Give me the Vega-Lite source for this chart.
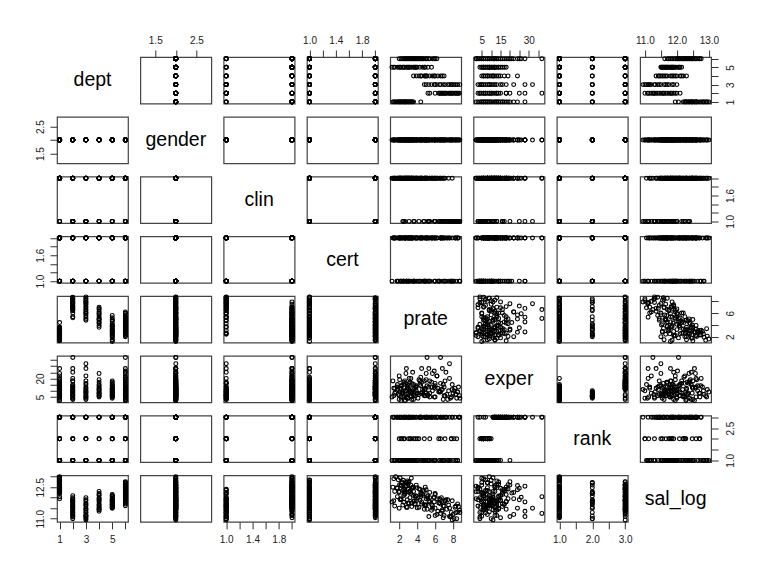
{
"$schema": "https://vega.github.io/schema/vega-lite/v6.json",
"padding": {"left": 34, "top": 34, "right": 5, "bottom": 5},
"columns": 8,
"spacing": {"row": 12.75, "column": 12.3},
"bounds": "flush",
"resolve": {"scale": {"x": "independent", "y": "independent"}},
"config": {
  "font": "Liberation Sans",
  "view": {"stroke": "#444", "strokeWidth": 1.2, "continuousWidth": 71, "continuousHeight": 46.6},
  "point": {"filled": false, "size": 15, "color": "#000", "strokeWidth": 1.1, "opacity": 1},
  "axis": {"domain": false, "grid": false, "ticks": true, "tickSize": 7, "tickColor": "#333", "tickWidth": 1, "labelFontSize": 10, "labelColor": "#222", "labelFlush": false, "labelOverlap": false, "labelBound": false},
  "axisTop": {"labelPadding": 5, "labelBaseline": "bottom"},
  "axisBottom": {"labelPadding": 6, "labelBaseline": "top"},
  "axisLeft": {"labelPadding": 5, "labelAngle": 270, "labelAlign": "center", "labelBaseline": "bottom"},
  "axisRight": {"labelPadding": 7, "labelAngle": 270, "labelAlign": "center", "labelBaseline": "top"}
},
"data": {"values": [
{"dept":1,"gender":2,"clin":2,"cert":2,"prate":1.3,"exper":18,"rank":3,"sal_log":12.5},
{"dept":1,"gender":2,"clin":2,"cert":2,"prate":1.5,"exper":12,"rank":3,"sal_log":12.3},
{"dept":1,"gender":2,"clin":2,"cert":2,"prate":1.6,"exper":9,"rank":1,"sal_log":13.0},
{"dept":1,"gender":2,"clin":2,"cert":2,"prate":1.8,"exper":15,"rank":3,"sal_log":12.45},
{"dept":1,"gender":2,"clin":2,"cert":1,"prate":1.9,"exper":7,"rank":1,"sal_log":12.85},
{"dept":1,"gender":2,"clin":2,"cert":2,"prate":2.0,"exper":22,"rank":3,"sal_log":12.25},
{"dept":1,"gender":2,"clin":2,"cert":2,"prate":2.1,"exper":11,"rank":1,"sal_log":12.95},
{"dept":1,"gender":2,"clin":2,"cert":2,"prate":2.2,"exper":5,"rank":2,"sal_log":12.6},
{"dept":1,"gender":2,"clin":2,"cert":1,"prate":2.3,"exper":14,"rank":3,"sal_log":12.75},
{"dept":1,"gender":2,"clin":2,"cert":2,"prate":2.4,"exper":8,"rank":1,"sal_log":12.35},
{"dept":1,"gender":2,"clin":1,"cert":1,"prate":2.5,"exper":17,"rank":3,"sal_log":12.4},
{"dept":1,"gender":2,"clin":2,"cert":2,"prate":2.6,"exper":6,"rank":2,"sal_log":12.2},
{"dept":1,"gender":2,"clin":2,"cert":2,"prate":2.7,"exper":10,"rank":1,"sal_log":12.65},
{"dept":1,"gender":2,"clin":2,"cert":1,"prate":2.8,"exper":28,"rank":3,"sal_log":12.55},
{"dept":1,"gender":2,"clin":2,"cert":2,"prate":2.9,"exper":13,"rank":1,"sal_log":12.8},
{"dept":1,"gender":2,"clin":2,"cert":1,"prate":3.0,"exper":4,"rank":1,"sal_log":12.4},
{"dept":1,"gender":2,"clin":1,"cert":2,"prate":3.1,"exper":16,"rank":3,"sal_log":12.25},
{"dept":1,"gender":2,"clin":2,"cert":2,"prate":3.2,"exper":9,"rank":2,"sal_log":12.28},
{"dept":1,"gender":2,"clin":2,"cert":2,"prate":3.3,"exper":20,"rank":3,"sal_log":12.6},
{"dept":1,"gender":2,"clin":2,"cert":1,"prate":3.4,"exper":3,"rank":1,"sal_log":12.45},
{"dept":1,"gender":2,"clin":2,"cert":2,"prate":3.5,"exper":12,"rank":1,"sal_log":12.5},
{"dept":1,"gender":2,"clin":2,"cert":1,"prate":3.6,"exper":7,"rank":1,"sal_log":12.3},
{"dept":1,"gender":2,"clin":2,"cert":1,"prate":2.2,"exper":2,"rank":1,"sal_log":11.95},
{"dept":1,"gender":2,"clin":2,"cert":2,"prate":4.4,"exper":14,"rank":3,"sal_log":12.05},
{"dept":1,"gender":2,"clin":2,"cert":2,"prate":1.4,"exper":6,"rank":1,"sal_log":12.9},
{"dept":1,"gender":2,"clin":2,"cert":2,"prate":2.05,"exper":19,"rank":3,"sal_log":12.62},
{"dept":1,"gender":2,"clin":2,"cert":1,"prate":2.45,"exper":10,"rank":1,"sal_log":12.83},
{"dept":1,"gender":2,"clin":2,"cert":2,"prate":2.75,"exper":24,"rank":3,"sal_log":12.58},
{"dept":1,"gender":2,"clin":2,"cert":2,"prate":3.05,"exper":8,"rank":2,"sal_log":12.72},
{"dept":1,"gender":2,"clin":2,"cert":1,"prate":1.75,"exper":13,"rank":3,"sal_log":12.48},
{"dept":1,"gender":2,"clin":2,"cert":2,"prate":3.35,"exper":5,"rank":1,"sal_log":12.93},
{"dept":1,"gender":2,"clin":1,"cert":2,"prate":2.65,"exper":16,"rank":3,"sal_log":12.38},
{"dept":2,"gender":2,"clin":1,"cert":1,"prate":8.7,"exper":6,"rank":3,"sal_log":11.4},
{"dept":2,"gender":2,"clin":1,"cert":2,"prate":8.5,"exper":9,"rank":1,"sal_log":11.7},
{"dept":2,"gender":2,"clin":1,"cert":1,"prate":8.4,"exper":4,"rank":2,"sal_log":11.0},
{"dept":2,"gender":2,"clin":1,"cert":2,"prate":8.2,"exper":12,"rank":3,"sal_log":11.55},
{"dept":2,"gender":2,"clin":1,"cert":1,"prate":8.0,"exper":8,"rank":1,"sal_log":11.2},
{"dept":2,"gender":2,"clin":2,"cert":2,"prate":7.9,"exper":15,"rank":3,"sal_log":11.85},
{"dept":2,"gender":2,"clin":1,"cert":1,"prate":7.8,"exper":5,"rank":2,"sal_log":11.3},
{"dept":2,"gender":2,"clin":1,"cert":2,"prate":7.6,"exper":20,"rank":1,"sal_log":11.1},
{"dept":2,"gender":2,"clin":2,"cert":1,"prate":7.5,"exper":10,"rank":1,"sal_log":11.65},
{"dept":2,"gender":2,"clin":1,"cert":2,"prate":7.3,"exper":7,"rank":3,"sal_log":11.45},
{"dept":2,"gender":2,"clin":1,"cert":1,"prate":7.2,"exper":25,"rank":3,"sal_log":11.9},
{"dept":2,"gender":2,"clin":2,"cert":2,"prate":7.0,"exper":13,"rank":1,"sal_log":11.15},
{"dept":2,"gender":2,"clin":1,"cert":1,"prate":6.9,"exper":3,"rank":3,"sal_log":11.6},
{"dept":2,"gender":2,"clin":2,"cert":2,"prate":6.8,"exper":28,"rank":3,"sal_log":11.35},
{"dept":2,"gender":2,"clin":1,"cert":2,"prate":6.7,"exper":11,"rank":1,"sal_log":12.0},
{"dept":2,"gender":2,"clin":2,"cert":2,"prate":6.6,"exper":37,"rank":3,"sal_log":11.25},
{"dept":2,"gender":2,"clin":1,"cert":1,"prate":6.4,"exper":9,"rank":2,"sal_log":11.75},
{"dept":2,"gender":2,"clin":2,"cert":1,"prate":6.0,"exper":14,"rank":1,"sal_log":11.5},
{"dept":2,"gender":2,"clin":2,"cert":2,"prate":5.4,"exper":18,"rank":3,"sal_log":11.8},
{"dept":2,"gender":2,"clin":2,"cert":1,"prate":5.2,"exper":6,"rank":1,"sal_log":12.1},
{"dept":2,"gender":2,"clin":1,"cert":2,"prate":8.6,"exper":13,"rank":3,"sal_log":11.58},
{"dept":2,"gender":2,"clin":1,"cert":1,"prate":7.7,"exper":4,"rank":1,"sal_log":11.08},
{"dept":2,"gender":2,"clin":2,"cert":2,"prate":7.1,"exper":18,"rank":3,"sal_log":11.82},
{"dept":2,"gender":2,"clin":1,"cert":2,"prate":8.3,"exper":7,"rank":1,"sal_log":11.28},
{"dept":2,"gender":2,"clin":2,"cert":1,"prate":6.5,"exper":10,"rank":1,"sal_log":11.95},
{"dept":3,"gender":2,"clin":1,"cert":1,"prate":8.75,"exper":4,"rank":3,"sal_log":11.3},
{"dept":3,"gender":2,"clin":1,"cert":2,"prate":8.3,"exper":7,"rank":1,"sal_log":11.6},
{"dept":3,"gender":2,"clin":1,"cert":1,"prate":7.9,"exper":11,"rank":3,"sal_log":10.94},
{"dept":3,"gender":2,"clin":1,"cert":2,"prate":7.6,"exper":32,"rank":3,"sal_log":11.5},
{"dept":3,"gender":2,"clin":1,"cert":1,"prate":7.1,"exper":6,"rank":2,"sal_log":11.85},
{"dept":3,"gender":2,"clin":2,"cert":2,"prate":6.9,"exper":15,"rank":1,"sal_log":11.05},
{"dept":3,"gender":2,"clin":1,"cert":1,"prate":6.5,"exper":9,"rank":1,"sal_log":11.75},
{"dept":3,"gender":2,"clin":2,"cert":2,"prate":6.2,"exper":22,"rank":3,"sal_log":11.2},
{"dept":3,"gender":2,"clin":1,"cert":1,"prate":5.9,"exper":5,"rank":1,"sal_log":12.0},
{"dept":3,"gender":2,"clin":2,"cert":2,"prate":5.6,"exper":13,"rank":3,"sal_log":11.4},
{"dept":3,"gender":2,"clin":1,"cert":1,"prate":5.3,"exper":28,"rank":3,"sal_log":11.1},
{"dept":3,"gender":2,"clin":2,"cert":2,"prate":5.0,"exper":8,"rank":1,"sal_log":11.65},
{"dept":3,"gender":2,"clin":2,"cert":1,"prate":4.8,"exper":18,"rank":3,"sal_log":11.45},
{"dept":3,"gender":2,"clin":1,"cert":2,"prate":7.4,"exper":3,"rank":1,"sal_log":11.9},
{"dept":3,"gender":2,"clin":1,"cert":1,"prate":8.1,"exper":10,"rank":2,"sal_log":11.0},
{"dept":3,"gender":2,"clin":2,"cert":2,"prate":6.0,"exper":12,"rank":1,"sal_log":11.15},
{"dept":3,"gender":2,"clin":1,"cert":1,"prate":7.8,"exper":5,"rank":2,"sal_log":11.12},
{"dept":3,"gender":2,"clin":2,"cert":2,"prate":6.6,"exper":16,"rank":3,"sal_log":11.7},
{"dept":3,"gender":2,"clin":1,"cert":2,"prate":8.5,"exper":9,"rank":1,"sal_log":11.32},
{"dept":4,"gender":2,"clin":1,"cert":1,"prate":7.0,"exper":6,"rank":1,"sal_log":11.6},
{"dept":4,"gender":2,"clin":1,"cert":2,"prate":6.6,"exper":9,"rank":2,"sal_log":11.9},
{"dept":4,"gender":2,"clin":2,"cert":1,"prate":6.3,"exper":12,"rank":3,"sal_log":11.35},
{"dept":4,"gender":2,"clin":1,"cert":2,"prate":6.0,"exper":5,"rank":1,"sal_log":12.2},
{"dept":4,"gender":2,"clin":2,"cert":2,"prate":5.7,"exper":24,"rank":3,"sal_log":11.5},
{"dept":4,"gender":2,"clin":2,"cert":1,"prate":5.4,"exper":8,"rank":1,"sal_log":12.0},
{"dept":4,"gender":2,"clin":2,"cert":2,"prate":5.1,"exper":14,"rank":3,"sal_log":11.45},
{"dept":4,"gender":2,"clin":2,"cert":1,"prate":4.8,"exper":11,"rank":1,"sal_log":12.3},
{"dept":4,"gender":2,"clin":2,"cert":2,"prate":4.5,"exper":17,"rank":3,"sal_log":11.7},
{"dept":4,"gender":2,"clin":1,"cert":2,"prate":4.2,"exper":7,"rank":2,"sal_log":11.55},
{"dept":4,"gender":2,"clin":2,"cert":1,"prate":3.9,"exper":10,"rank":1,"sal_log":11.85},
{"dept":4,"gender":2,"clin":2,"cert":2,"prate":3.6,"exper":15,"rank":3,"sal_log":12.1},
{"dept":4,"gender":2,"clin":2,"cert":2,"prate":5.9,"exper":13,"rank":1,"sal_log":11.8},
{"dept":4,"gender":2,"clin":2,"cert":1,"prate":4.9,"exper":6,"rank":1,"sal_log":11.65},
{"dept":4,"gender":2,"clin":1,"cert":2,"prate":6.8,"exper":11,"rank":1,"sal_log":11.42},
{"dept":4,"gender":2,"clin":2,"cert":1,"prate":5.0,"exper":19,"rank":3,"sal_log":11.95},
{"dept":4,"gender":2,"clin":2,"cert":2,"prate":4.4,"exper":8,"rank":1,"sal_log":12.15},
{"dept":5,"gender":2,"clin":2,"cert":1,"prate":1.2,"exper":5,"rank":1,"sal_log":11.8},
{"dept":5,"gender":2,"clin":2,"cert":2,"prate":1.5,"exper":8,"rank":1,"sal_log":11.6},
{"dept":5,"gender":2,"clin":2,"cert":1,"prate":1.8,"exper":11,"rank":3,"sal_log":12.05},
{"dept":5,"gender":2,"clin":2,"cert":2,"prate":2.0,"exper":6,"rank":2,"sal_log":11.5},
{"dept":5,"gender":2,"clin":2,"cert":1,"prate":2.2,"exper":14,"rank":3,"sal_log":11.9},
{"dept":5,"gender":2,"clin":1,"cert":2,"prate":2.4,"exper":9,"rank":1,"sal_log":11.65},
{"dept":5,"gender":2,"clin":2,"cert":2,"prate":2.6,"exper":18,"rank":3,"sal_log":12.15},
{"dept":5,"gender":2,"clin":2,"cert":1,"prate":2.8,"exper":7,"rank":1,"sal_log":11.55},
{"dept":5,"gender":2,"clin":2,"cert":2,"prate":3.0,"exper":12,"rank":3,"sal_log":11.75},
{"dept":5,"gender":2,"clin":2,"cert":1,"prate":3.2,"exper":10,"rank":1,"sal_log":12.0},
{"dept":5,"gender":2,"clin":2,"cert":2,"prate":3.4,"exper":16,"rank":3,"sal_log":11.58},
{"dept":5,"gender":2,"clin":1,"cert":1,"prate":3.6,"exper":6,"rank":2,"sal_log":11.82},
{"dept":5,"gender":2,"clin":2,"cert":2,"prate":3.8,"exper":13,"rank":1,"sal_log":11.7},
{"dept":5,"gender":2,"clin":2,"cert":2,"prate":4.0,"exper":8,"rank":1,"sal_log":11.52},
{"dept":5,"gender":2,"clin":2,"cert":1,"prate":4.3,"exper":15,"rank":3,"sal_log":11.88},
{"dept":5,"gender":2,"clin":2,"cert":2,"prate":4.6,"exper":9,"rank":1,"sal_log":12.1},
{"dept":5,"gender":2,"clin":2,"cert":1,"prate":4.9,"exper":11,"rank":3,"sal_log":11.62},
{"dept":5,"gender":2,"clin":1,"cert":2,"prate":5.2,"exper":7,"rank":1,"sal_log":11.95},
{"dept":5,"gender":2,"clin":2,"cert":2,"prate":5.6,"exper":17,"rank":3,"sal_log":11.68},
{"dept":5,"gender":2,"clin":2,"cert":1,"prate":2.5,"exper":5,"rank":2,"sal_log":11.78},
{"dept":5,"gender":2,"clin":2,"cert":2,"prate":3.1,"exper":10,"rank":1,"sal_log":11.72},
{"dept":5,"gender":2,"clin":2,"cert":1,"prate":3.7,"exper":12,"rank":3,"sal_log":11.85},
{"dept":5,"gender":2,"clin":2,"cert":2,"prate":1.4,"exper":12,"rank":3,"sal_log":11.85},
{"dept":5,"gender":2,"clin":2,"cert":1,"prate":2.9,"exper":4,"rank":1,"sal_log":11.54},
{"dept":5,"gender":2,"clin":2,"cert":2,"prate":3.9,"exper":14,"rank":3,"sal_log":12.08},
{"dept":5,"gender":2,"clin":1,"cert":2,"prate":4.8,"exper":6,"rank":2,"sal_log":11.66},
{"dept":5,"gender":2,"clin":2,"cert":1,"prate":2.1,"exper":9,"rank":1,"sal_log":11.92},
{"dept":6,"gender":2,"clin":2,"cert":2,"prate":2.0,"exper":3,"rank":1,"sal_log":12.3},
{"dept":6,"gender":2,"clin":2,"cert":2,"prate":2.3,"exper":8,"rank":2,"sal_log":12.7},
{"dept":6,"gender":2,"clin":2,"cert":1,"prate":2.5,"exper":15,"rank":3,"sal_log":12.1},
{"dept":6,"gender":2,"clin":2,"cert":2,"prate":2.7,"exper":2,"rank":1,"sal_log":12.55},
{"dept":6,"gender":2,"clin":2,"cert":2,"prate":2.9,"exper":11,"rank":1,"sal_log":11.9},
{"dept":6,"gender":2,"clin":2,"cert":1,"prate":3.1,"exper":20,"rank":3,"sal_log":12.76},
{"dept":6,"gender":2,"clin":2,"cert":2,"prate":3.3,"exper":6,"rank":2,"sal_log":12.2},
{"dept":6,"gender":2,"clin":2,"cert":2,"prate":3.5,"exper":25,"rank":3,"sal_log":12.45},
{"dept":6,"gender":2,"clin":1,"cert":1,"prate":3.7,"exper":9,"rank":1,"sal_log":11.7},
{"dept":6,"gender":2,"clin":2,"cert":2,"prate":3.9,"exper":13,"rank":3,"sal_log":12.6},
{"dept":6,"gender":2,"clin":2,"cert":1,"prate":4.1,"exper":4,"rank":1,"sal_log":12.0},
{"dept":6,"gender":2,"clin":2,"cert":2,"prate":4.3,"exper":18,"rank":3,"sal_log":12.4},
{"dept":6,"gender":2,"clin":2,"cert":2,"prate":4.5,"exper":28,"rank":3,"sal_log":11.8},
{"dept":6,"gender":2,"clin":1,"cert":1,"prate":4.7,"exper":7,"rank":1,"sal_log":12.35},
{"dept":6,"gender":2,"clin":2,"cert":2,"prate":4.9,"exper":12,"rank":1,"sal_log":12.5},
{"dept":6,"gender":2,"clin":2,"cert":2,"prate":5.1,"exper":37,"rank":3,"sal_log":12.05},
{"dept":6,"gender":2,"clin":1,"cert":1,"prate":5.4,"exper":5,"rank":2,"sal_log":12.25},
{"dept":6,"gender":2,"clin":2,"cert":2,"prate":5.7,"exper":10,"rank":1,"sal_log":11.62},
{"dept":6,"gender":2,"clin":1,"cert":1,"prate":6.0,"exper":16,"rank":3,"sal_log":12.15},
{"dept":6,"gender":2,"clin":2,"cert":2,"prate":6.2,"exper":22,"rank":3,"sal_log":11.95},
{"dept":6,"gender":2,"clin":2,"cert":2,"prate":2.6,"exper":2,"rank":1,"sal_log":12.28},
{"dept":6,"gender":2,"clin":2,"cert":1,"prate":3.0,"exper":14,"rank":3,"sal_log":12.65},
{"dept":6,"gender":2,"clin":2,"cert":2,"prate":3.4,"exper":9,"rank":1,"sal_log":11.75},
{"dept":6,"gender":2,"clin":2,"cert":2,"prate":3.8,"exper":6,"rank":2,"sal_log":12.08},
{"dept":6,"gender":2,"clin":2,"cert":1,"prate":4.2,"exper":19,"rank":3,"sal_log":12.42},
{"dept":6,"gender":2,"clin":2,"cert":2,"prate":4.6,"exper":11,"rank":1,"sal_log":12.18},
{"dept":6,"gender":2,"clin":2,"cert":2,"prate":5.0,"exper":24,"rank":3,"sal_log":12.38},
{"dept":6,"gender":2,"clin":2,"cert":1,"prate":3.6,"exper":3,"rank":1,"sal_log":12.5},
{"dept":6,"gender":2,"clin":2,"cert":2,"prate":2.2,"exper":12,"rank":3,"sal_log":12.58},
{"dept":6,"gender":2,"clin":2,"cert":1,"prate":2.8,"exper":5,"rank":1,"sal_log":12.72},
{"dept":6,"gender":2,"clin":2,"cert":2,"prate":3.2,"exper":17,"rank":3,"sal_log":12.32},
{"dept":6,"gender":2,"clin":2,"cert":2,"prate":4.0,"exper":8,"rank":2,"sal_log":12.48},
{"dept":6,"gender":2,"clin":2,"cert":1,"prate":4.4,"exper":21,"rank":3,"sal_log":12.22},
{"dept":6,"gender":2,"clin":1,"cert":2,"prate":5.3,"exper":13,"rank":1,"sal_log":11.85},
{"dept":6,"gender":2,"clin":2,"cert":2,"prate":5.9,"exper":26,"rank":3,"sal_log":12.02}
]},
"concat": [
{"width":71,"height":46.6,"data":{"values":[{"name":"dept"}]},"mark":{"type":"text","fontSize":19.5,"color":"#000"},"encoding":{"text":{"field":"name"}}},
{"width":71,"height":46.6,"mark":"point","encoding":{"x":{"field":"gender","type":"quantitative","scale":{"domain":[1.136,2.864]},"axis":{"orient":"top","title":null,"values":[1.5,2,2.5],"labelExpr":"datum.value==2?'':format(datum.value,'.1f')"}},"y":{"field":"dept","type":"quantitative","scale":{"domain":[0.8,6.2]},"axis":null}}},
{"width":71,"height":46.6,"mark":"point","encoding":{"x":{"field":"clin","type":"quantitative","scale":{"domain":[0.96,2.04]},"axis":null},"y":{"field":"dept","type":"quantitative","scale":{"domain":[0.8,6.2]},"axis":null}}},
{"width":71,"height":46.6,"mark":"point","encoding":{"x":{"field":"cert","type":"quantitative","scale":{"domain":[0.96,2.04]},"axis":{"orient":"top","title":null,"values":[1,1.2,1.4,1.6,1.8,2],"labelExpr":"indexof([1,1.4,1.8],datum.value)>=0?format(datum.value,'.1f'):''"}},"y":{"field":"dept","type":"quantitative","scale":{"domain":[0.8,6.2]},"axis":null}}},
{"width":71,"height":46.6,"mark":"point","encoding":{"x":{"field":"prate","type":"quantitative","scale":{"domain":[1.0,8.9]},"axis":null},"y":{"field":"dept","type":"quantitative","scale":{"domain":[0.8,6.2]},"axis":null}}},
{"width":71,"height":46.6,"mark":"point","encoding":{"x":{"field":"exper","type":"quantitative","scale":{"domain":[0.6,38.4]},"axis":{"orient":"top","title":null,"values":[5,10,15,20,25,30,35],"labelExpr":"indexof([5,15,30],datum.value)>=0?datum.label:''"}},"y":{"field":"dept","type":"quantitative","scale":{"domain":[0.8,6.2]},"axis":null}}},
{"width":71,"height":46.6,"mark":"point","encoding":{"x":{"field":"rank","type":"quantitative","scale":{"domain":[0.92,3.08]},"axis":null},"y":{"field":"dept","type":"quantitative","scale":{"domain":[0.8,6.2]},"axis":null}}},
{"width":71,"height":46.6,"mark":"point","encoding":{"x":{"field":"sal_log","type":"quantitative","scale":{"domain":[10.85,13.07]},"axis":{"orient":"top","title":null,"values":[11,11.5,12,12.5,13],"labelExpr":"datum.value%1==0?format(datum.value,'.1f'):''"}},"y":{"field":"dept","type":"quantitative","scale":{"domain":[0.8,6.2]},"axis":{"orient":"right","title":null,"values":[1,2,3,4,5,6],"labelExpr":"datum.value%2==1?datum.label:''"}}}},

{"width":71,"height":46.6,"mark":"point","encoding":{"x":{"field":"dept","type":"quantitative","scale":{"domain":[0.8,6.2]},"axis":null},"y":{"field":"gender","type":"quantitative","scale":{"domain":[1.136,2.864]},"axis":{"orient":"left","title":null,"values":[1.5,2,2.5],"labelExpr":"datum.value==2?'':format(datum.value,'.1f')"}}}},
{"width":71,"height":46.6,"data":{"values":[{"name":"gender"}]},"mark":{"type":"text","fontSize":19.5,"color":"#000"},"encoding":{"text":{"field":"name"}}},
{"width":71,"height":46.6,"mark":"point","encoding":{"x":{"field":"clin","type":"quantitative","scale":{"domain":[0.96,2.04]},"axis":null},"y":{"field":"gender","type":"quantitative","scale":{"domain":[1.136,2.864]},"axis":null}}},
{"width":71,"height":46.6,"mark":"point","encoding":{"x":{"field":"cert","type":"quantitative","scale":{"domain":[0.96,2.04]},"axis":null},"y":{"field":"gender","type":"quantitative","scale":{"domain":[1.136,2.864]},"axis":null}}},
{"width":71,"height":46.6,"mark":"point","encoding":{"x":{"field":"prate","type":"quantitative","scale":{"domain":[1.0,8.9]},"axis":null},"y":{"field":"gender","type":"quantitative","scale":{"domain":[1.136,2.864]},"axis":null}}},
{"width":71,"height":46.6,"mark":"point","encoding":{"x":{"field":"exper","type":"quantitative","scale":{"domain":[0.6,38.4]},"axis":null},"y":{"field":"gender","type":"quantitative","scale":{"domain":[1.136,2.864]},"axis":null}}},
{"width":71,"height":46.6,"mark":"point","encoding":{"x":{"field":"rank","type":"quantitative","scale":{"domain":[0.92,3.08]},"axis":null},"y":{"field":"gender","type":"quantitative","scale":{"domain":[1.136,2.864]},"axis":null}}},
{"width":71,"height":46.6,"mark":"point","encoding":{"x":{"field":"sal_log","type":"quantitative","scale":{"domain":[10.85,13.07]},"axis":null},"y":{"field":"gender","type":"quantitative","scale":{"domain":[1.136,2.864]},"axis":null}}},

{"width":71,"height":46.6,"mark":"point","encoding":{"x":{"field":"dept","type":"quantitative","scale":{"domain":[0.8,6.2]},"axis":null},"y":{"field":"clin","type":"quantitative","scale":{"domain":[0.96,2.04]},"axis":null}}},
{"width":71,"height":46.6,"mark":"point","encoding":{"x":{"field":"gender","type":"quantitative","scale":{"domain":[1.136,2.864]},"axis":null},"y":{"field":"clin","type":"quantitative","scale":{"domain":[0.96,2.04]},"axis":null}}},
{"width":71,"height":46.6,"data":{"values":[{"name":"clin"}]},"mark":{"type":"text","fontSize":19.5,"color":"#000"},"encoding":{"text":{"field":"name"}}},
{"width":71,"height":46.6,"mark":"point","encoding":{"x":{"field":"cert","type":"quantitative","scale":{"domain":[0.96,2.04]},"axis":null},"y":{"field":"clin","type":"quantitative","scale":{"domain":[0.96,2.04]},"axis":null}}},
{"width":71,"height":46.6,"mark":"point","encoding":{"x":{"field":"prate","type":"quantitative","scale":{"domain":[1.0,8.9]},"axis":null},"y":{"field":"clin","type":"quantitative","scale":{"domain":[0.96,2.04]},"axis":null}}},
{"width":71,"height":46.6,"mark":"point","encoding":{"x":{"field":"exper","type":"quantitative","scale":{"domain":[0.6,38.4]},"axis":null},"y":{"field":"clin","type":"quantitative","scale":{"domain":[0.96,2.04]},"axis":null}}},
{"width":71,"height":46.6,"mark":"point","encoding":{"x":{"field":"rank","type":"quantitative","scale":{"domain":[0.92,3.08]},"axis":null},"y":{"field":"clin","type":"quantitative","scale":{"domain":[0.96,2.04]},"axis":null}}},
{"width":71,"height":46.6,"mark":"point","encoding":{"x":{"field":"sal_log","type":"quantitative","scale":{"domain":[10.85,13.07]},"axis":null},"y":{"field":"clin","type":"quantitative","scale":{"domain":[0.96,2.04]},"axis":{"orient":"right","title":null,"values":[1,1.2,1.4,1.6,1.8,2],"labelExpr":"indexof([1,1.6],datum.value)>=0?format(datum.value,'.1f'):''"}}}},

{"width":71,"height":46.6,"mark":"point","encoding":{"x":{"field":"dept","type":"quantitative","scale":{"domain":[0.8,6.2]},"axis":null},"y":{"field":"cert","type":"quantitative","scale":{"domain":[0.96,2.04]},"axis":{"orient":"left","title":null,"values":[1,1.2,1.4,1.6,1.8,2],"labelExpr":"indexof([1,1.6],datum.value)>=0?format(datum.value,'.1f'):''"}}}},
{"width":71,"height":46.6,"mark":"point","encoding":{"x":{"field":"gender","type":"quantitative","scale":{"domain":[1.136,2.864]},"axis":null},"y":{"field":"cert","type":"quantitative","scale":{"domain":[0.96,2.04]},"axis":null}}},
{"width":71,"height":46.6,"mark":"point","encoding":{"x":{"field":"clin","type":"quantitative","scale":{"domain":[0.96,2.04]},"axis":null},"y":{"field":"cert","type":"quantitative","scale":{"domain":[0.96,2.04]},"axis":null}}},
{"width":71,"height":46.6,"data":{"values":[{"name":"cert"}]},"mark":{"type":"text","fontSize":19.5,"color":"#000"},"encoding":{"text":{"field":"name"}}},
{"width":71,"height":46.6,"mark":"point","encoding":{"x":{"field":"prate","type":"quantitative","scale":{"domain":[1.0,8.9]},"axis":null},"y":{"field":"cert","type":"quantitative","scale":{"domain":[0.96,2.04]},"axis":null}}},
{"width":71,"height":46.6,"mark":"point","encoding":{"x":{"field":"exper","type":"quantitative","scale":{"domain":[0.6,38.4]},"axis":null},"y":{"field":"cert","type":"quantitative","scale":{"domain":[0.96,2.04]},"axis":null}}},
{"width":71,"height":46.6,"mark":"point","encoding":{"x":{"field":"rank","type":"quantitative","scale":{"domain":[0.92,3.08]},"axis":null},"y":{"field":"cert","type":"quantitative","scale":{"domain":[0.96,2.04]},"axis":null}}},
{"width":71,"height":46.6,"mark":"point","encoding":{"x":{"field":"sal_log","type":"quantitative","scale":{"domain":[10.85,13.07]},"axis":null},"y":{"field":"cert","type":"quantitative","scale":{"domain":[0.96,2.04]},"axis":null}}},

{"width":71,"height":46.6,"mark":"point","encoding":{"x":{"field":"dept","type":"quantitative","scale":{"domain":[0.8,6.2]},"axis":null},"y":{"field":"prate","type":"quantitative","scale":{"domain":[1.0,8.9]},"axis":null}}},
{"width":71,"height":46.6,"mark":"point","encoding":{"x":{"field":"gender","type":"quantitative","scale":{"domain":[1.136,2.864]},"axis":null},"y":{"field":"prate","type":"quantitative","scale":{"domain":[1.0,8.9]},"axis":null}}},
{"width":71,"height":46.6,"mark":"point","encoding":{"x":{"field":"clin","type":"quantitative","scale":{"domain":[0.96,2.04]},"axis":null},"y":{"field":"prate","type":"quantitative","scale":{"domain":[1.0,8.9]},"axis":null}}},
{"width":71,"height":46.6,"mark":"point","encoding":{"x":{"field":"cert","type":"quantitative","scale":{"domain":[0.96,2.04]},"axis":null},"y":{"field":"prate","type":"quantitative","scale":{"domain":[1.0,8.9]},"axis":null}}},
{"width":71,"height":46.6,"data":{"values":[{"name":"prate"}]},"mark":{"type":"text","fontSize":19.5,"color":"#000"},"encoding":{"text":{"field":"name"}}},
{"width":71,"height":46.6,"mark":"point","encoding":{"x":{"field":"exper","type":"quantitative","scale":{"domain":[0.6,38.4]},"axis":null},"y":{"field":"prate","type":"quantitative","scale":{"domain":[1.0,8.9]},"axis":null}}},
{"width":71,"height":46.6,"mark":"point","encoding":{"x":{"field":"rank","type":"quantitative","scale":{"domain":[0.92,3.08]},"axis":null},"y":{"field":"prate","type":"quantitative","scale":{"domain":[1.0,8.9]},"axis":null}}},
{"width":71,"height":46.6,"mark":"point","encoding":{"x":{"field":"sal_log","type":"quantitative","scale":{"domain":[10.85,13.07]},"axis":null},"y":{"field":"prate","type":"quantitative","scale":{"domain":[1.0,8.9]},"axis":{"orient":"right","title":null,"values":[2,4,6,8],"labelExpr":"indexof([2,6],datum.value)>=0?datum.label:''"}}}},

{"width":71,"height":46.6,"mark":"point","encoding":{"x":{"field":"dept","type":"quantitative","scale":{"domain":[0.8,6.2]},"axis":null},"y":{"field":"exper","type":"quantitative","scale":{"domain":[0.6,38.4]},"axis":{"orient":"left","title":null,"values":[5,10,15,20,25,30,35],"labelExpr":"indexof([5,20],datum.value)>=0?datum.label:''"}}}},
{"width":71,"height":46.6,"mark":"point","encoding":{"x":{"field":"gender","type":"quantitative","scale":{"domain":[1.136,2.864]},"axis":null},"y":{"field":"exper","type":"quantitative","scale":{"domain":[0.6,38.4]},"axis":null}}},
{"width":71,"height":46.6,"mark":"point","encoding":{"x":{"field":"clin","type":"quantitative","scale":{"domain":[0.96,2.04]},"axis":null},"y":{"field":"exper","type":"quantitative","scale":{"domain":[0.6,38.4]},"axis":null}}},
{"width":71,"height":46.6,"mark":"point","encoding":{"x":{"field":"cert","type":"quantitative","scale":{"domain":[0.96,2.04]},"axis":null},"y":{"field":"exper","type":"quantitative","scale":{"domain":[0.6,38.4]},"axis":null}}},
{"width":71,"height":46.6,"mark":"point","encoding":{"x":{"field":"prate","type":"quantitative","scale":{"domain":[1.0,8.9]},"axis":null},"y":{"field":"exper","type":"quantitative","scale":{"domain":[0.6,38.4]},"axis":null}}},
{"width":71,"height":46.6,"data":{"values":[{"name":"exper"}]},"mark":{"type":"text","fontSize":19.5,"color":"#000"},"encoding":{"text":{"field":"name"}}},
{"width":71,"height":46.6,"mark":"point","encoding":{"x":{"field":"rank","type":"quantitative","scale":{"domain":[0.92,3.08]},"axis":null},"y":{"field":"exper","type":"quantitative","scale":{"domain":[0.6,38.4]},"axis":null}}},
{"width":71,"height":46.6,"mark":"point","encoding":{"x":{"field":"sal_log","type":"quantitative","scale":{"domain":[10.85,13.07]},"axis":null},"y":{"field":"exper","type":"quantitative","scale":{"domain":[0.6,38.4]},"axis":null}}},

{"width":71,"height":46.6,"mark":"point","encoding":{"x":{"field":"dept","type":"quantitative","scale":{"domain":[0.8,6.2]},"axis":null},"y":{"field":"rank","type":"quantitative","scale":{"domain":[0.92,3.08]},"axis":null}}},
{"width":71,"height":46.6,"mark":"point","encoding":{"x":{"field":"gender","type":"quantitative","scale":{"domain":[1.136,2.864]},"axis":null},"y":{"field":"rank","type":"quantitative","scale":{"domain":[0.92,3.08]},"axis":null}}},
{"width":71,"height":46.6,"mark":"point","encoding":{"x":{"field":"clin","type":"quantitative","scale":{"domain":[0.96,2.04]},"axis":null},"y":{"field":"rank","type":"quantitative","scale":{"domain":[0.92,3.08]},"axis":null}}},
{"width":71,"height":46.6,"mark":"point","encoding":{"x":{"field":"cert","type":"quantitative","scale":{"domain":[0.96,2.04]},"axis":null},"y":{"field":"rank","type":"quantitative","scale":{"domain":[0.92,3.08]},"axis":null}}},
{"width":71,"height":46.6,"mark":"point","encoding":{"x":{"field":"prate","type":"quantitative","scale":{"domain":[1.0,8.9]},"axis":null},"y":{"field":"rank","type":"quantitative","scale":{"domain":[0.92,3.08]},"axis":null}}},
{"width":71,"height":46.6,"mark":"point","encoding":{"x":{"field":"exper","type":"quantitative","scale":{"domain":[0.6,38.4]},"axis":null},"y":{"field":"rank","type":"quantitative","scale":{"domain":[0.92,3.08]},"axis":null}}},
{"width":71,"height":46.6,"data":{"values":[{"name":"rank"}]},"mark":{"type":"text","fontSize":19.5,"color":"#000"},"encoding":{"text":{"field":"name"}}},
{"width":71,"height":46.6,"mark":"point","encoding":{"x":{"field":"sal_log","type":"quantitative","scale":{"domain":[10.85,13.07]},"axis":null},"y":{"field":"rank","type":"quantitative","scale":{"domain":[0.92,3.08]},"axis":{"orient":"right","title":null,"values":[1,1.5,2,2.5,3],"labelExpr":"indexof([1,2.5],datum.value)>=0?format(datum.value,'.1f'):''"}}}},

{"width":71,"height":46.6,"mark":"point","encoding":{"x":{"field":"dept","type":"quantitative","scale":{"domain":[0.8,6.2]},"axis":{"orient":"bottom","title":null,"values":[1,2,3,4,5,6],"labelExpr":"datum.value%2==1?datum.label:''"}},"y":{"field":"sal_log","type":"quantitative","scale":{"domain":[10.85,13.07]},"axis":{"orient":"left","title":null,"values":[11,11.5,12,12.5,13],"labelExpr":"indexof([11,12.5],datum.value)>=0?format(datum.value,'.1f'):''"}}}},
{"width":71,"height":46.6,"mark":"point","encoding":{"x":{"field":"gender","type":"quantitative","scale":{"domain":[1.136,2.864]},"axis":null},"y":{"field":"sal_log","type":"quantitative","scale":{"domain":[10.85,13.07]},"axis":null}}},
{"width":71,"height":46.6,"mark":"point","encoding":{"x":{"field":"clin","type":"quantitative","scale":{"domain":[0.96,2.04]},"axis":{"orient":"bottom","title":null,"values":[1,1.2,1.4,1.6,1.8,2],"labelExpr":"indexof([1,1.4,1.8],datum.value)>=0?format(datum.value,'.1f'):''"}},"y":{"field":"sal_log","type":"quantitative","scale":{"domain":[10.85,13.07]},"axis":null}}},
{"width":71,"height":46.6,"mark":"point","encoding":{"x":{"field":"cert","type":"quantitative","scale":{"domain":[0.96,2.04]},"axis":null},"y":{"field":"sal_log","type":"quantitative","scale":{"domain":[10.85,13.07]},"axis":null}}},
{"width":71,"height":46.6,"mark":"point","encoding":{"x":{"field":"prate","type":"quantitative","scale":{"domain":[1.0,8.9]},"axis":{"orient":"bottom","title":null,"values":[2,4,6,8]}},"y":{"field":"sal_log","type":"quantitative","scale":{"domain":[10.85,13.07]},"axis":null}}},
{"width":71,"height":46.6,"mark":"point","encoding":{"x":{"field":"exper","type":"quantitative","scale":{"domain":[0.6,38.4]},"axis":null},"y":{"field":"sal_log","type":"quantitative","scale":{"domain":[10.85,13.07]},"axis":null}}},
{"width":71,"height":46.6,"mark":"point","encoding":{"x":{"field":"rank","type":"quantitative","scale":{"domain":[0.92,3.08]},"axis":{"orient":"bottom","title":null,"values":[1,1.5,2,2.5,3],"labelExpr":"datum.value%1==0?format(datum.value,'.1f'):''"}},"y":{"field":"sal_log","type":"quantitative","scale":{"domain":[10.85,13.07]},"axis":null}}},
{"width":71,"height":46.6,"data":{"values":[{"name":"sal_log"}]},"mark":{"type":"text","fontSize":19.5,"color":"#000"},"encoding":{"text":{"field":"name"}}}
]
}
